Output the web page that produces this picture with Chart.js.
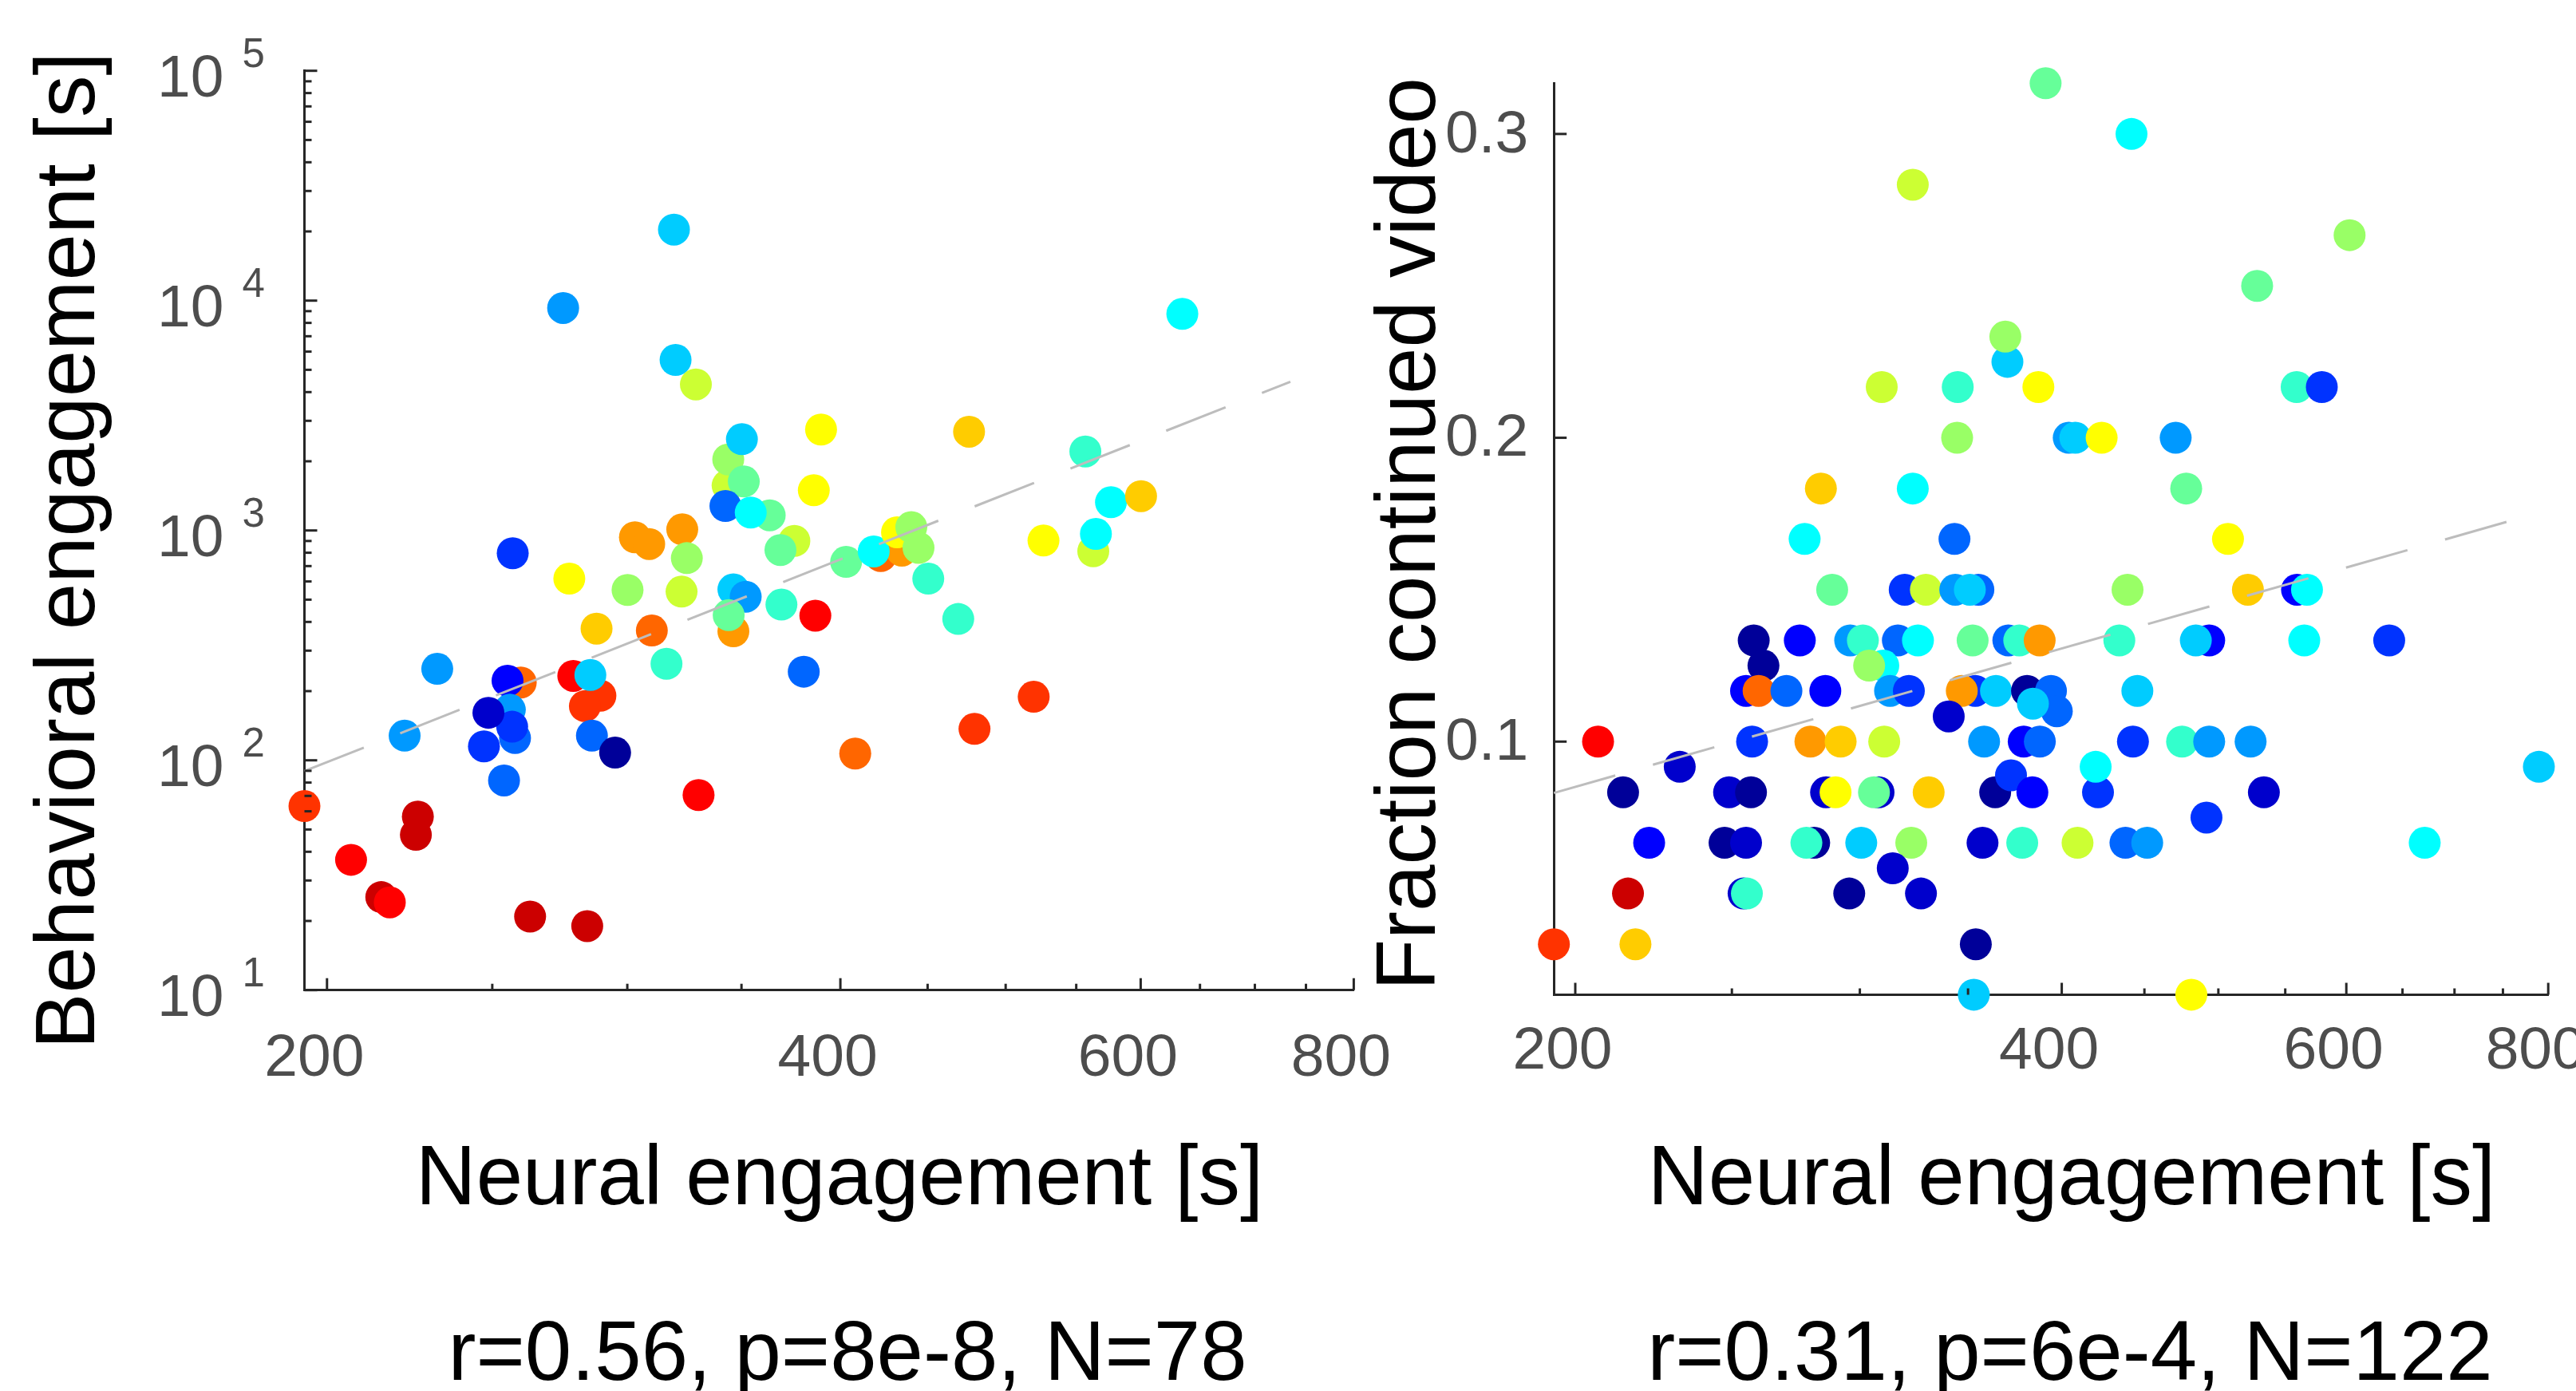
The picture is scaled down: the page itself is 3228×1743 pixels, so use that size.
<!DOCTYPE html>
<html>
<head>
<meta charset="utf-8">
<script src="https://cdn.jsdelivr.net/npm/chart.js@4.4.1/dist/chart.umd.min.js"></script>
<style>
html,body{margin:0;padding:0;background:#ffffff;}
#wrap{position:relative;width:3228px;height:1743px;background:#ffffff;}
canvas{position:absolute;left:0;top:0;}
</style>
</head>
<body>
<div id="wrap">
<canvas id="leftChart" width="3228" height="1743"></canvas>
<canvas id="rightChart" width="3228" height="1743"></canvas>
</div>
<script>
// ---------------- DATA ----------------
// jet-like colour levels used for the markers (index = colour level)
const jetLevels = ['#000099','#0000cc','#0000ff','#0033ff','#0066ff','#0099ff','#00ccff','#00ffff','#33ffcc','#66ff99',
                   '#99ff66','#ccff33','#ffff00','#ffcc00','#ff9900','#ff6600','#ff3300','#ff0000','#cc0000'];

// Left panel: neural engagement [s] vs behavioral engagement [s]
const behavNeural = [319.5,275.1,320.2,329.1,343.5,343.8,351.1,350.2,363.6,342.5,354.4,375.9,368.9,303.1,309.0,323.1,325.1,257.0,
  277.4,300.1,322.8,346.2,352.0,369.4,346.2,344.0,287.8,310.1,316.3,380.7,232.1,259.8,255.2,278.9,289.3,283.3,285.4,256.0,257.8,256.8,
  248.7,247.2,222.1,286.0,295.1,254.0,330.3,194.0,226.1,225.5,206.6,215.2,217.7,263.1,284.2,
  634.7,389.7,475.9,556.8,385.9,576.4,600.3,526.2,562.8,564.8,403.1,422.4,434.6,418.4,431.8,440.2,444.5,450.4,386.7,469.0,519.3,479.4,408.1];
const behavEngagement = [20370,9285,5521,4320,1570,2037,1634,2496,1164,1278,1196,901,822,934,873,1011,758,796,
  617,551,542,554,515,476,364,428,374,367,263,243,250,218,222,233,191,172,235,166,125,140,
  161,115,128,128,108,81.7,70.6,63.2,56.9,47.4,36.9,25.4,24.1,20.9,19.0,
  8759,2748,2689,2207,1496,1327,1410,904,812,966,730,774,817,811,982,1034,840,617,426,412,189,137,107];
const behavColorLevel = [6,5,6,11,11,10,9,6,9,4,7,11,9,14,14,14,10,3,
  12,10,11,6,5,8,14,9,13,15,8,4,5,15,2,17,16,16,6,5,4,3,
  1,3,5,4,0,4,17,16,18,18,17,18,17,18,18,
  7,12,13,8,12,7,13,12,11,7,9,15,14,7,12,10,10,8,17,8,16,16,15];
const behavFitNeural = [194, 734.4];
const behavFitEngagement = [89.8, 4438];

// Right panel: neural engagement [s] vs fraction continued video
const fracNeural = [390.9,441.8,323.5,602.8,528.4,370.2,369.1,309.5,344.9,386.9,559.0,579.4,344.6,404.0,407.8,423.4,470.5,283.8,323.5,477.6,277.3,343.3,506.9,
  288.4,319.8,329.6,343.7,355.2,350.9,439.3,521.5,559.3,567.3,
  257.9,275.4,295.9,301.3,316.7,325.9,352.3,370.7,376.5,387.6,434.2,493.5,484.2,565.1,637.8,
  261.5,310.2,304.0,
  255.1,259.7,270.2,285.6,313.2,321.7,353.6,346.9,364.2,380.7,393.9,397.2,383.9,445.5,340.5,
  206.6,257.3,279.6,291.9,310.6,358.1,378.9,387.7,442.7,474.8,493.5,523.5,
  232.1,789.4,
  214.1,249.0,256.9,285.9,289.8,308.1,306.1,330.9,363.8,372.1,383.6,421.2,419.8,533.5,491.6,
  222.2,247.4,255.1,281.1,278.0,300.6,322.8,357.3,378.1,409.1,438.0,451.8,670.9,314.4,
  215.6,254.2,255.4,295.5,327.3,
  194.0,217.9,353.9,
  352.9,481.1];
const fracContinued = [0.3167,0.3,0.2833,0.2667,0.25,0.225,0.2333,0.2167,0.2167,0.2167,0.2167,0.2167,0.2,0.2,0.2,0.2,0.2,0.1833,0.1833,0.1833,0.1667,0.1667,0.1667,
  0.15,0.15,0.15,0.15,0.15,0.15,0.15,0.15,0.15,0.15,
  0.1333,0.1333,0.1333,0.1333,0.1333,0.1333,0.1333,0.1333,0.1333,0.1333,0.1333,0.1333,0.1333,0.1333,0.1333,
  0.125,0.125,0.125,
  0.1167,0.1167,0.1167,0.1167,0.1167,0.1167,0.1167,0.1167,0.1167,0.1167,0.1167,0.11,0.1125,0.1167,0.1083,
  0.1,0.1,0.1,0.1,0.1,0.1,0.1,0.1,0.1,0.1,0.1,0.1,
  0.0917,0.0917,
  0.0833,0.0833,0.0833,0.0833,0.0833,0.0833,0.0833,0.0833,0.0833,0.0889,0.0833,0.0833,0.0917,0.0833,0.075,
  0.0667,0.0667,0.0667,0.0667,0.0667,0.0667,0.0667,0.0667,0.0667,0.0667,0.0667,0.0667,0.0667,0.0583,
  0.05,0.05,0.05,0.05,0.05,
  0.0333,0.0333,0.0333,
  0.0167,0.0167];
const fracColorLevel = [9,7,11,10,9,6,10,11,8,12,8,3,10,5,6,12,5,13,7,9,7,4,12,
  9,3,11,5,4,6,10,13,2,7,
  0,2,5,8,4,7,9,4,8,14,8,2,6,7,3,
  0,7,10,
  2,15,4,2,5,3,3,14,6,0,4,4,6,6,1,
  17,3,14,13,11,5,2,4,3,8,5,5,
  1,6,
  0,1,0,1,12,1,9,13,0,3,2,3,7,1,3,
  2,0,1,0,8,6,10,1,8,11,4,5,7,1,
  18,1,8,0,1,
  16,13,0,
  6,12];
const fracFitNeural = [194, 787.9];
const fracFitContinued = [0.0831, 0.1752];

// Axis ticks and labels
const neuralMajorTicks = [200, 400, 600, 800];
const neuralTickLabels = ['200', '400', '600', '800'];
const neuralMinorTicks = [250, 300, 350, 450, 500, 550, 650, 700, 750];
const behavMajorTicks = [10, 100, 1000, 10000, 100000];
const behavTickBase = ['10', '10', '10', '10', '10'];
const behavTickExponent = ['1', '2', '3', '4', '5'];
const behavMinorTicks = [20,30,40,50,60,70,80,90,200,300,400,500,600,700,800,900,
  2000,3000,4000,5000,6000,7000,8000,9000,20000,30000,40000,50000,60000,70000,80000,90000];
const fracMajorTicks = [0.1, 0.2, 0.3];
const fracTickLabels = ['0.1', '0.2', '0.3'];

// Text
const behavYTitle = 'Behavioral engagement [s]';
const fracYTitle = 'Fraction continued video';
const neuralXTitle = 'Neural engagement [s]';
const behavStats = 'r=0.56, p=8e-8, N=78';
const fracStats = 'r=0.31, p=6e-4, N=122';

// ---------------- RENDERING ----------------
const TICK_FONT = '"Liberation Sans", Arial, sans-serif';
const AXIS_COLOR = '#262626';
const TICK_LABEL_COLOR = '#4d4d4d';
const W = 3228, H = 1743;

function zip(xs, ys) { return xs.map((x, i) => ({x: x, y: ys[i]})); }

function decorPlugin(cfg) {
  return {
    id: 'decor',
    afterDraw(chart) {
      const ctx = chart.ctx, a = chart.chartArea;
      const xs = chart.scales.x, ys = chart.scales.y;
      ctx.save();
      ctx.strokeStyle = AXIS_COLOR;
      ctx.lineWidth = 3;
      ctx.lineCap = 'butt';
      const xt = (v, len) => { const p = xs.getPixelForValue(v); ctx.beginPath(); ctx.moveTo(p, a.bottom); ctx.lineTo(p, a.bottom - len); ctx.stroke(); };
      const yt = (v, len) => { const p = ys.getPixelForValue(v); ctx.beginPath(); ctx.moveTo(a.left, p); ctx.lineTo(a.left + len, p); ctx.stroke(); };
      cfg.xMajor.forEach(v => xt(v, 15));
      cfg.xMinor.forEach(v => xt(v, 8));
      cfg.yMajor.forEach(v => yt(v, 16));
      (cfg.yMinor || []).forEach(v => yt(v, 9));
      if (cfg.yExponents) {
        ctx.fillStyle = TICK_LABEL_COLOR;
        ctx.font = '51px ' + TICK_FONT;
        ctx.textAlign = 'left';
        ctx.textBaseline = 'middle';
        cfg.yMajor.forEach((v, i) => {
          const p = ys.getPixelForValue(v);
          ctx.fillText(cfg.yExponents[i], a.left - 78, p - 19);
        });
      }
      ctx.fillStyle = '#000000';
      ctx.font = '105px "Liberation Sans", Arial, Helvetica, sans-serif';
      ctx.textAlign = 'center';
      ctx.textBaseline = 'alphabetic';
      ctx.save();
      ctx.translate(cfg.yTitlePos[0], cfg.yTitlePos[1]);
      ctx.rotate(-Math.PI / 2);
      ctx.fillText(cfg.yTitle, 0, 0);
      ctx.restore();
      ctx.fillText(cfg.xTitle, cfg.xTitlePos[0], cfg.xTitlePos[1]);
      ctx.fillText(cfg.stats, cfg.statsPos[0], cfg.statsPos[1]);
      ctx.restore();
    }
  };
}

function noPad(s) { s.paddingLeft = 0; s.paddingRight = 0; s.paddingTop = 0; s.paddingBottom = 0; }

function makeChart(id, cfg) {
  const a = cfg.area;
  return new Chart(document.getElementById(id), {
    type: 'scatter',
    data: {
      datasets: [
        {
          type: 'line',
          data: cfg.fit,
          borderColor: '#bdbdbd',
          borderWidth: 3,
          borderDash: [80, 49],
          pointRadius: 0,
          fill: false,
          clip: false,
          order: 0
        },
        {
          type: 'scatter',
          data: cfg.points,
          pointBackgroundColor: cfg.colors,
          backgroundColor: cfg.colors,
          pointRadius: 20,
          pointBorderWidth: 0,
          borderWidth: 0,
          pointHoverRadius: 20,
          clip: false,
          order: 1
        }
      ]
    },
    options: {
      responsive: false,
      animation: false,
      devicePixelRatio: 1,
      events: [],
      layout: { padding: { left: a.left - cfg.yW, right: W - a.right, top: a.top, bottom: H - a.bottom - cfg.xH } },
      plugins: { legend: { display: false }, tooltip: { enabled: false } },
      scales: {
        x: {
          type: 'logarithmic',
          position: 'bottom',
          min: 194, max: 800,
          z: cfg.xz,
          afterFit: s => { s.height = cfg.xH; noPad(s); },
          afterBuildTicks: s => { s.ticks = neuralMajorTicks.map(v => ({ value: v })); },
          grid: { display: false, drawTicks: false },
          border: { display: true, color: AXIS_COLOR, width: 3 },
          ticks: {
            autoSkip: false, maxRotation: 0, minRotation: 0,
            padding: cfg.xLabelPad, labelOffset: -16,
            color: TICK_LABEL_COLOR,
            font: { family: TICK_FONT, size: 75 },
            callback: (v, i) => neuralTickLabels[i]
          }
        },
        y: Object.assign({
          position: 'left',
          afterFit: s => { s.width = cfg.yW; noPad(s); },
          grid: { display: false, drawTicks: false },
          border: { display: true, color: AXIS_COLOR, width: 3 }
        }, cfg.yScale)
      }
    },
    plugins: [decorPlugin(cfg.decor)]
  });
}

makeChart('leftChart', {
  fit: zip(behavFitNeural, behavFitEngagement),
  points: zip(behavNeural, behavEngagement),
  colors: behavColorLevel.map(i => jetLevels[i]),
  area: { left: 381.5, right: 1696.4, top: 88.7, bottom: 1240.7 },
  yW: 381.5, xH: 220,
  xz: 0,
  xLabelPad: 42,
  yScale: {
    type: 'logarithmic',
    min: 10, max: 100000,
    afterBuildTicks: s => { s.ticks = behavMajorTicks.map(v => ({ value: v })); },
    ticks: {
      autoSkip: false, padding: 101, labelOffset: 12,
      color: TICK_LABEL_COLOR,
      font: { family: TICK_FONT, size: 75 },
      callback: (v, i) => behavTickBase[i]
    }
  },
  decor: {
    xMajor: neuralMajorTicks, xMinor: neuralMinorTicks,
    yMajor: behavMajorTicks, yMinor: behavMinorTicks, yExponents: behavTickExponent,
    yTitle: behavYTitle, yTitlePos: [118, 690],
    xTitle: neuralXTitle, xTitlePos: [1052, 1509],
    stats: behavStats, statsPos: [1062, 1729]
  }
});

makeChart('rightChart', {
  fit: zip(fracFitNeural, fracFitContinued),
  points: zip(fracNeural, fracContinued),
  colors: fracColorLevel.map(i => jetLevels[i]),
  area: { left: 1947.2, right: 3193.2, top: 104.4, bottom: 1246.5 },
  yW: 200, xH: 220,
  xz: 1,
  xLabelPad: 27,
  yScale: {
    type: 'linear',
    min: 0.01667, max: 0.31667,
    afterBuildTicks: s => { s.ticks = fracMajorTicks.map(v => ({ value: v })); },
    ticks: {
      autoSkip: false, padding: 32, labelOffset: 2,
      color: TICK_LABEL_COLOR,
      font: { family: TICK_FONT, size: 75 },
      callback: (v, i) => fracTickLabels[i]
    }
  },
  decor: {
    xMajor: neuralMajorTicks, xMinor: neuralMinorTicks,
    yMajor: fracMajorTicks, yMinor: [], yExponents: null,
    yTitle: fracYTitle, yTitlePos: [1798, 669],
    xTitle: neuralXTitle, xTitlePos: [2596, 1509],
    stats: fracStats, statsPos: [2594, 1729]
  }
});
</script>
</body>
</html>
